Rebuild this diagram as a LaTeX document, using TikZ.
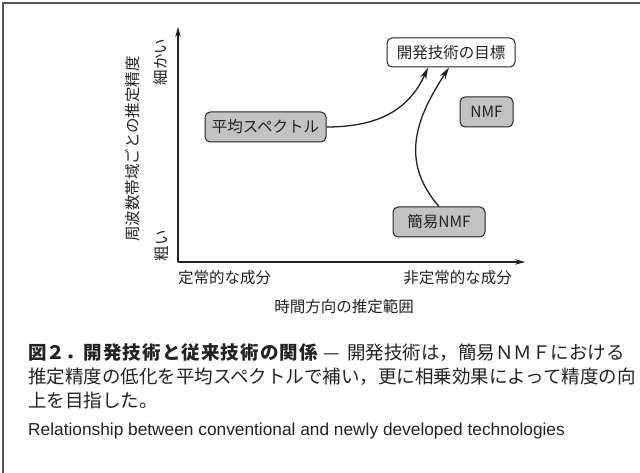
\documentclass[tikz,border=0pt]{standalone}
\usepackage{fontspec}
\setmainfont{Liberation Sans}
\newfontfamily\jp{Noto Sans CJK JP}
\usetikzlibrary{arrows.meta}
\definecolor{boxgray}{HTML}{C2C2C2}
\definecolor{ink}{HTML}{222222}
\definecolor{framecol}{HTML}{555555}
\tikzset{
  boxnode/.style={draw=ink, line width=1pt, rounded corners=5pt, fill=boxgray,
    inner sep=0pt, text=ink, font=\jp\fontsize{15.5}{18}\selectfont},
  lbl/.style={inner sep=0pt, text=ink, font=\jp\fontsize{15.5}{18}\selectfont},
  captext/.style={inner sep=0pt, anchor=west, text=ink, font=\jp\fontsize{18.5}{22}\selectfont},
  arr/.style={draw=ink, line width=1.3pt, -{Stealth[length=12pt,width=6.5pt]}},
  axis/.style={draw=ink, line width=1.1pt, -{Stealth[length=10pt,width=5.5pt]}},
}
\begin{document}
\begin{tikzpicture}[x=1pt,y=-1pt]
\useasboundingbox (0,0) rectangle (640,473);
\fill[white] (0,0) rectangle (640,473);
% frame
\draw[framecol, line width=1.4pt] (3,473) -- (3,3) -- (640,3);
% axes
\coordinate (origin) at (178,262);
\coordinate (ytip) at (178,27);
\coordinate (xtip) at (525,262);
\draw[axis] (origin) -- (ytip);
\draw[axis] (origin) -- (xtip);
% axis labels
\node[lbl, rotate=90] (fine) at (161,62) {細かい};
\node[lbl, rotate=90] (coarse) at (162,246) {粗い};
\node[lbl, rotate=90] (ylabel) at (133,149) {周波数帯域ごとの推定精度};
\node[lbl, anchor=west] (stat) at (178,278) {定常的な成分};
\node[lbl, anchor=east] (nonstat) at (512,278) {非定常的な成分};
\node[lbl] (xlabel) at (344,307) {時間方向の推定範囲};
% boxes
\node[boxnode, fill=white, minimum width=128pt, minimum height=29pt] (goal) at (451,52.5) {開発技術の目標};
\node[boxnode, minimum width=121pt, minimum height=30pt] (avg) at (265.5,127) {平均スペクトル};
\node[boxnode, minimum width=53pt, minimum height=30pt] (nmf) at (486.5,112) {NMF};
\node[boxnode, minimum width=92pt, minimum height=30pt] (simple) at (439,222) {簡易NMF};
% connectors
\draw[arr] (avg.east) .. controls +(55,0) and +(-18,40) .. ([xshift=-23pt]goal.south);
\draw[arr] (simple.north) .. controls +(-41,-47) and +(-31,48) .. ([xshift=-2pt]goal.south);
% caption
\node[captext] (c1) at (28,353) {{\bfseries 図２．}{\bfseries\addfontfeatures{LetterSpace=6}開発技術と従来技術の関係}\hspace{6pt}—\hspace{7pt}開発技術は，簡易ＮＭＦにおける};
\node[captext] (c2) at (28,377) {推定精度の低化を平均スペクトルで補い，更に相乗効果によって精度の向};
\node[captext] (c3) at (28,400) {上を目指した。};
\node[inner sep=0pt, anchor=west, text=ink, font=\fontsize{17.3}{20}\selectfont] (en) at (28,431) {Relationship between conventional and newly developed technologies};
\end{tikzpicture}
\end{document}
